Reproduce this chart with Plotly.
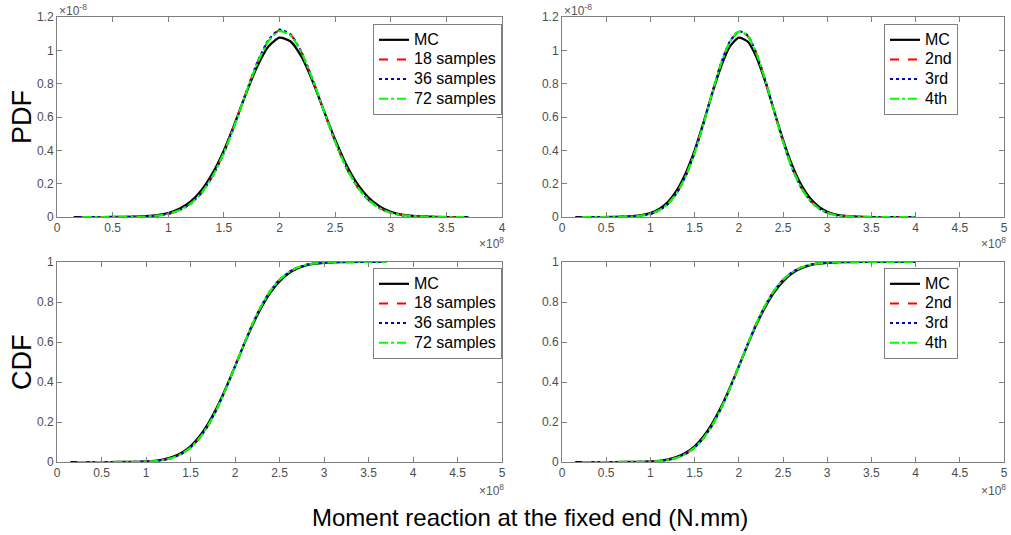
import plotly.graph_objects as go

# ---------------- data (x in units of 1e8 N.mm, PDF in units of 1e-8) ----------------
x_left = [0.15, 0.4, 0.6, 0.8, 0.9, 1.0, 1.1, 1.2, 1.3, 1.4, 1.5, 1.6, 1.7, 1.8, 1.9,
          2.0, 2.1, 2.2, 2.3, 2.4, 2.5, 2.6, 2.7, 2.8, 2.9, 3.0, 3.1, 3.2, 3.4, 3.7]
x_right = x_left + [4.0]

pdf_mc = [0.0, 0.0001, 0.0007, 0.005, 0.011, 0.024, 0.049, 0.092, 0.162, 0.265, 0.40, 0.566,
          0.742, 0.903, 1.023, 1.076, 1.053, 0.958, 0.81, 0.636, 0.465, 0.315, 0.199, 0.117,
          0.064, 0.032, 0.015, 0.007, 0.001, 0.0]
pdf_18 = [0.0, 0.0, 0.0004, 0.003, 0.008, 0.018, 0.040, 0.079, 0.145, 0.246, 0.385, 0.558,
          0.748, 0.925, 1.058, 1.120, 1.094, 0.985, 0.822, 0.634, 0.452, 0.297, 0.181, 0.102,
          0.053, 0.025, 0.011, 0.005, 0.0006, 0.0]
pdf_36 = [0.0, 0.0, 0.0004, 0.003, 0.008, 0.018, 0.040, 0.080, 0.146, 0.247, 0.386, 0.559,
          0.749, 0.927, 1.062, 1.125, 1.096, 0.986, 0.822, 0.634, 0.452, 0.297, 0.181, 0.102,
          0.053, 0.025, 0.011, 0.005, 0.0006, 0.0]
pdf_72 = [0.0, 0.0, 0.0004, 0.003, 0.008, 0.018, 0.040, 0.079, 0.145, 0.246, 0.385, 0.557,
          0.747, 0.923, 1.055, 1.115, 1.090, 0.983, 0.821, 0.634, 0.452, 0.297, 0.181, 0.102,
          0.053, 0.025, 0.011, 0.005, 0.0006, 0.0]

pdf_mc_r = pdf_mc + [0.0]
pdf_2nd = [0.0, 0.0, 0.0004, 0.003, 0.008, 0.018, 0.040, 0.080, 0.146, 0.247, 0.386, 0.559,
           0.748, 0.924, 1.052, 1.110, 1.086, 0.980, 0.820, 0.634, 0.453, 0.298, 0.182, 0.103,
           0.054, 0.026, 0.011, 0.005, 0.0006, 0.0, 0.0]
pdf_3rd = [0.0, 0.0, 0.0004, 0.003, 0.008, 0.018, 0.040, 0.079, 0.145, 0.246, 0.385, 0.558,
           0.747, 0.923, 1.055, 1.115, 1.090, 0.982, 0.821, 0.634, 0.452, 0.297, 0.181, 0.102,
           0.053, 0.025, 0.011, 0.005, 0.0006, 0.0, 0.0]
pdf_4th = [0.0, 0.0, 0.0004, 0.003, 0.008, 0.018, 0.040, 0.079, 0.145, 0.246, 0.385, 0.557,
           0.746, 0.922, 1.053, 1.112, 1.088, 0.981, 0.821, 0.634, 0.452, 0.297, 0.181, 0.102,
           0.053, 0.025, 0.011, 0.005, 0.0006, 0.0, 0.0]

cdf_mc = [0.0, 0.0, 0.0001, 0.0005, 0.0012, 0.0029, 0.0064, 0.0132, 0.0256, 0.0465, 0.079,
          0.128, 0.194, 0.276, 0.373, 0.478, 0.586, 0.687, 0.775, 0.848, 0.903, 0.942, 0.967,
          0.9825, 0.9913, 0.996, 0.9982, 0.9993, 0.9999, 1.0]
cdf_s = [0.0, 0.0, 0.0001, 0.0004, 0.0009, 0.0021, 0.0049, 0.0106, 0.0216, 0.0408, 0.072,
         0.119, 0.184, 0.268, 0.368, 0.478, 0.589, 0.694, 0.784, 0.857, 0.911, 0.948, 0.972,
         0.9858, 0.9933, 0.997, 0.9988, 0.9995, 1.0, 1.0]
cdf_mc_r = cdf_mc + [1.0]
cdf_s_r = cdf_s + [1.0]

left_names = ["MC", "18 samples", "36 samples", "72 samples"]
right_names = ["MC", "2nd", "3rd", "4th"]

x_ticks_top_left = [0, 0.5, 1, 1.5, 2, 2.5, 3, 3.5, 4]
x_ticks_other = [0, 0.5, 1, 1.5, 2, 2.5, 3, 3.5, 4, 4.5, 5]
y_ticks_pdf = [0, 0.2, 0.4, 0.6, 0.8, 1, 1.2]
y_ticks_cdf = [0, 0.2, 0.4, 0.6, 0.8, 1]

# ---------------- styles ----------------
styles = [
    dict(color="#000000", width=2.2, dash="solid"),
    dict(color="#FF0000", width=2, dash="dash"),
    dict(color="#0000CC", width=2, dash="dot"),
    dict(color="#00FF00", width=2.2, dash="dashdot"),
]

W, H = 1011, 535
def dx(a, b):
    return [a / W, b / W]
def dy(top, bottom):
    return [1 - bottom / H, 1 - top / H]

fig = go.Figure()

panels = [
    ("x", "y", "legend", x_left, [pdf_mc, pdf_18, pdf_36, pdf_72], left_names),
    ("x2", "y2", "legend2", x_right, [pdf_mc_r, pdf_2nd, pdf_3rd, pdf_4th], right_names),
    ("x3", "y3", "legend3", x_left, [cdf_mc, cdf_s, cdf_s, cdf_s], left_names),
    ("x4", "y4", "legend4", x_right, [cdf_mc_r, cdf_s_r, cdf_s_r, cdf_s_r], right_names),
]
start_shift = [0.0, 0.04, 0.04, 0.08]
for xa, ya, lg, xs, ys_list, names in panels:
    for i, (ys, nm) in enumerate(zip(ys_list, names)):
        xs_i = [xs[0] + start_shift[i]] + xs[1:]
        fig.add_trace(go.Scatter(
            x=xs_i, y=ys,
            mode="lines", name="<span style='font-size:16px'>" + nm + "</span>",
            xaxis=xa, yaxis=ya, legend=lg,
            line=dict(color=styles[i]["color"], width=styles[i]["width"], dash=styles[i]["dash"],
                      shape="spline", smoothing=0.6),
            showlegend=True,
        ))

axis_common = dict(
    showline=True, mirror="ticks", ticks="inside", ticklen=5, tickwidth=1,
    linecolor="#808080", tickcolor="#808080", linewidth=1,
    showgrid=False, zeroline=False, automargin=False,
    tickfont=dict(family="Arial", size=12, color="#4d4d4d"),
)

xl = dx(57, 502)
xr = dx(562, 1004)
yt = dy(17, 217)
yb = dy(262, 462)

fig.update_layout(
    template="none",
    width=W, height=H, margin=dict(l=0, r=0, t=0, b=0, pad=0, autoexpand=False),
    paper_bgcolor="white", plot_bgcolor="white",
    xaxis=dict(domain=xl, range=[0, 4], tickvals=x_ticks_top_left, anchor="y", **axis_common),
    yaxis=dict(domain=yt, range=[0, 1.2], tickvals=y_ticks_pdf, anchor="x", **axis_common),
    xaxis2=dict(domain=xr, range=[0, 5], tickvals=x_ticks_other, anchor="y2", **axis_common),
    yaxis2=dict(domain=yt, range=[0, 1.2], tickvals=y_ticks_pdf, anchor="x2", **axis_common),
    xaxis3=dict(domain=xl, range=[0, 5], tickvals=x_ticks_other, anchor="y3", **axis_common),
    yaxis3=dict(domain=yb, range=[0, 1], tickvals=y_ticks_cdf, anchor="x3", **axis_common),
    xaxis4=dict(domain=xr, range=[0, 5], tickvals=x_ticks_other, anchor="y4", **axis_common),
    yaxis4=dict(domain=yb, range=[0, 1], tickvals=y_ticks_cdf, anchor="x4", **axis_common),
)

legend_common = dict(
    xanchor="left", yanchor="top", bgcolor="white", bordercolor="#808080", borderwidth=1,
    font=dict(family="Arial", size=12.8, color="#000000"), tracegroupgap=0, itemwidth=30,
)
fig.update_layout(
    legend=dict(x=373 / W, y=1 - 24 / H, **legend_common),
    legend2=dict(x=884 / W, y=1 - 24 / H, **legend_common),
    legend3=dict(x=373 / W, y=1 - 268 / H, **legend_common),
    legend4=dict(x=884 / W, y=1 - 268 / H, **legend_common),
)

ann = []
exp_font = dict(family="Arial", size=12, color="#555555")
ann.append(dict(text="×10<sup>-8</sup>", x=57 / W, y=1 - 10 / H, xref="paper", yref="paper",
                xanchor="left", yanchor="middle", showarrow=False, font=exp_font))
ann.append(dict(text="×10<sup>-8</sup>", x=562 / W, y=1 - 10 / H, xref="paper", yref="paper",
                xanchor="left", yanchor="middle", showarrow=False, font=exp_font))
for xpx, ypx in [(506, 243), (1008, 243), (506, 490), (1008, 490)]:
    ann.append(dict(text="×10<sup>8</sup>", x=xpx / W, y=1 - ypx / H, xref="paper", yref="paper",
                    xanchor="right", yanchor="middle", showarrow=False, font=exp_font))
ann.append(dict(text="PDF", x=22 / W, y=1 - 117 / H, xref="paper", yref="paper", textangle=-90,
                xanchor="center", yanchor="middle",
                showarrow=False, font=dict(family="Arial", size=27, color="#000000")))
ann.append(dict(text="CDF", x=22 / W, y=1 - 362 / H, xref="paper", yref="paper", textangle=-90,
                xanchor="center", yanchor="middle",
                showarrow=False, font=dict(family="Arial", size=27, color="#000000")))
ann.append(dict(text="Moment reaction at the fixed end (N.mm)", x=530 / W, y=1 - 517 / H,
                xref="paper", yref="paper", showarrow=False, xanchor="center", yanchor="middle",
                font=dict(family="Arial", size=24, color="#000000")))
fig.update_layout(annotations=ann)

fig.write_html("out.html")
